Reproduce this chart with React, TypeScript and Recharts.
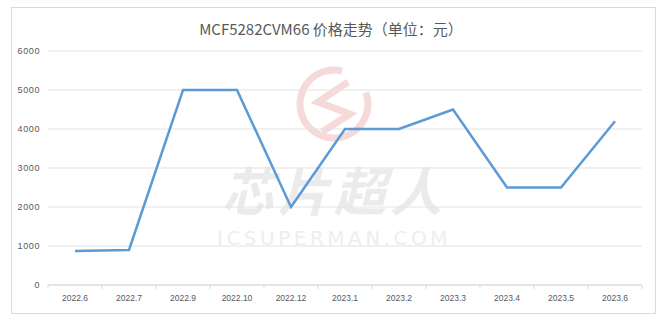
import React from 'react';
import { LineChart, Line, XAxis, YAxis, CartesianGrid } from 'recharts';

const categories = ['2022.6', '2022.7', '2022.9', '2022.10', '2022.12', '2023.1', '2023.2', '2023.3', '2023.4', '2023.5', '2023.6'];
const prices = [870, 900, 5000, 5000, 2000, 4000, 4000, 4500, 2500, 2500, 4200];
const yTicks = [0, 1000, 2000, 3000, 4000, 5000, 6000];
const title = 'MCF5282CVM66 价格走势（单位：元）';

const data = categories.map((c, i) => ({ month: c, price: prices[i] }));

const FONT = '"Liberation Sans Narrow", "Liberation Sans", Arial, sans-serif';

const XTick = (props: any) => {
  const { x, y, payload, index, visibleTicksCount } = props;
  const half = payload && payload.offset ? payload.offset : 27;
  const isLast = index === (visibleTicksCount ?? categories.length) - 1;
  const axisY = y - 10;
  return (
    <g>
      <line x1={x - half} x2={x - half} y1={axisY} y2={axisY + 4} stroke="#d9d9d9" />
      {isLast && <line x1={x + half} x2={x + half} y1={axisY} y2={axisY + 4} stroke="#d9d9d9" />}
      <text x={x} y={y} dy={6} textAnchor="middle" fontSize={8.5} fill="#595959" fontFamily={FONT}>
        {payload.value}
      </text>
    </g>
  );
};

const YTick = (props: any) => {
  const { x, y, payload } = props;
  return (
    <text x={x} y={y} dy={3} textAnchor="end" fontSize={9} letterSpacing={0.6} fill="#595959" fontFamily={FONT}>
      {payload.value}
    </text>
  );
};

export default function App() {
  return (
    <div style={{ position: 'absolute', left: 0, top: 0, width: 662, height: 319, background: '#fff' }}>
      <div style={{ position: 'absolute', left: 11, top: 7, width: 643, height: 305, border: '1px solid #d9d9d9' }} />
      <svg width={662} height={319} style={{ position: 'absolute', left: 0, top: 0 }}>
        <g opacity={0.9}>
          <circle cx={334} cy={104} r={34} fill="none" stroke="#f6d6d6" strokeWidth={7} strokeDasharray="180 34" transform="rotate(-20 334 104)" />
          <polyline points="348,82 318,102 350,114 322,132" fill="none" stroke="#f6d6d6" strokeWidth={7} strokeLinejoin="miter" />
        </g>
        <text x={334} y={211} textAnchor="middle" fontSize={52} fontStyle="italic" fontWeight="bold" fill="#ebebeb" fontFamily='"Noto Sans CJK SC", sans-serif' letterSpacing={4}>
          芯片超人
        </text>
        <text x={334} y={245} textAnchor="middle" fontSize={20} fill="#eeeeee" fontFamily='"DejaVu Sans", sans-serif' letterSpacing={3.5}>
          ICSUPERMAN.COM
        </text>
      </svg>
      <div style={{ position: 'absolute', left: 0, top: 18, width: 662, textAlign: 'center', fontSize: 15, color: '#595959', fontFamily: '"Noto Sans CJK SC", "Open Sans", sans-serif', lineHeight: '22px' }}>
        {title}
      </div>
      <div style={{ position: 'absolute', left: 0, top: 0 }}>
        <LineChart width={662} height={319} data={data} margin={{ top: 51, right: 20, bottom: 0, left: 0 }}>
          <CartesianGrid vertical={false} stroke="#e3e3e3" />
          <XAxis
            dataKey="month"
            scale="band"
            axisLine={{ stroke: '#d9d9d9' }}
            tickLine={false}
            tickSize={0}
            tickMargin={10}
            tick={<XTick />}
            interval={0}
            height={34}
          />
          <YAxis
            width={48}
            domain={[0, 6000]}
            ticks={yTicks}
            axisLine={false}
            tickLine={false}
            tick={<YTick />}
            interval={0}
          />
          <Line
            type="linear"
            dataKey="price"
            stroke="#5b9bd5"
            strokeWidth={2.5}
            dot={false}
            isAnimationActive={false}
          />
        </LineChart>
      </div>
    </div>
  );
}
